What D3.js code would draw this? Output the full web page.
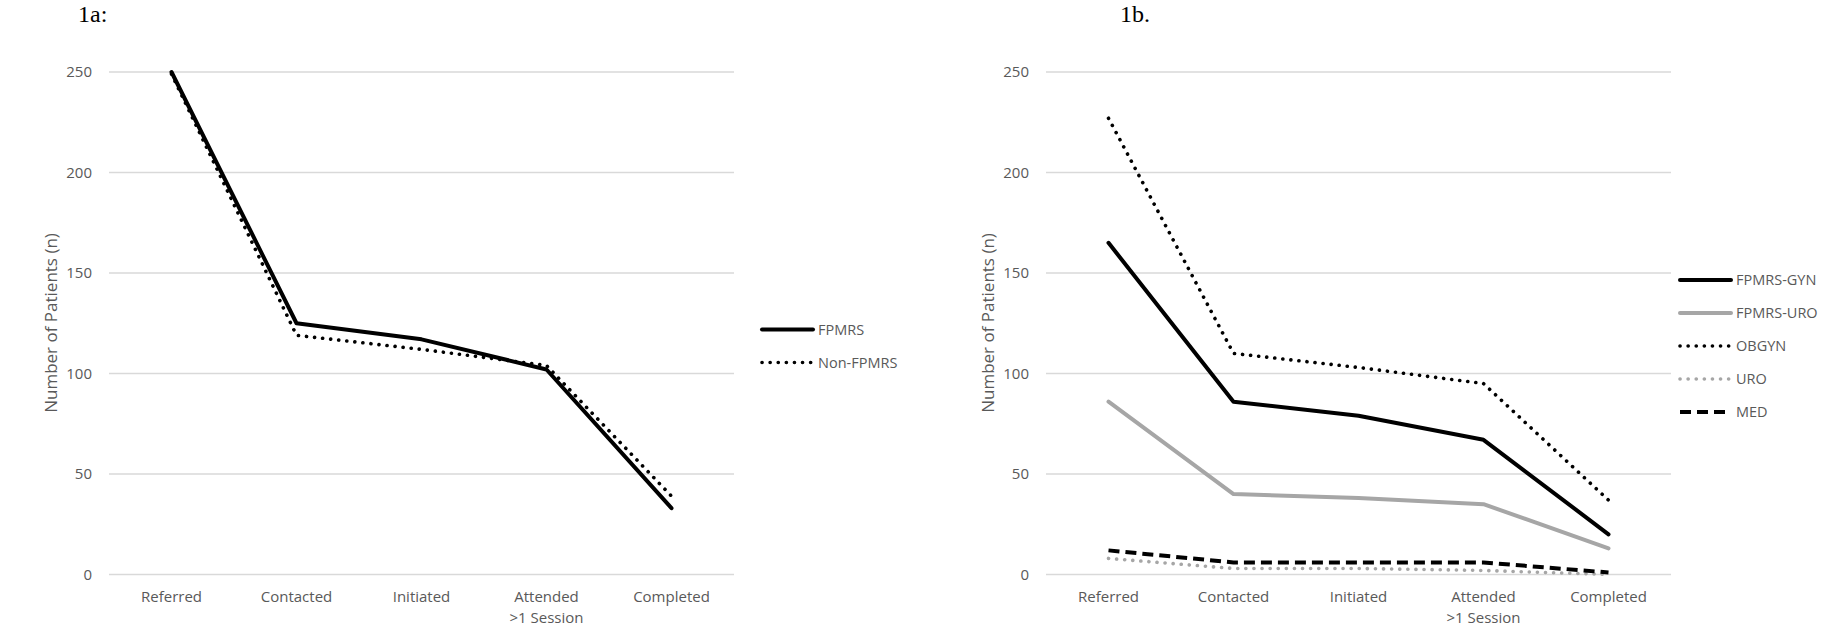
<!DOCTYPE html>
<html>
<head>
<meta charset="utf-8">
<title>Patient funnel</title>
<script src="https://cdnjs.cloudflare.com/ajax/libs/d3/7.8.5/d3.min.js"></script>
<style>
  body { margin: 0; background: #fff; }
  .tick-lbl { font-family: "Open Sans", sans-serif; font-size: 15px; fill: #595959; }
  .title { font-family: "Liberation Serif", "Times New Roman", serif; font-size: 24px; fill: #000; }
</style>
</head>
<body>
<div id="chart"></div>
<script>
// categories and tick labels
var stages = ["Referred", "Contacted", "Initiated", "Attended\n>1 Session", "Completed"];
var yTicks = [0, 50, 100, 150, 200, 250];

// 1a
var fpmrs    = [250, 125, 117, 102, 33];
var nonFpmrs = [249, 119, 112, 104, 39];

// 1b
var fpmrsGyn = [165, 86, 79, 67, 20];
var fpmrsUro = [86, 40, 38, 35, 13];
var obgyn    = [227, 110, 103, 95, 37];
var uro      = [8, 3, 3, 2, 0];
var med      = [12, 6, 6, 6, 1];

var W = 1839, H = 627;
var svg = d3.select("#chart").append("svg").attr("width", W).attr("height", H);

var styles = {
  solid:  { color: "#000", width: 4, dash: null, cap: "round" },
  dotted: { color: "#000", width: 3.6, dash: "0.1 8", cap: "round" },
  solidGray:  { color: "#a6a6a6", width: 4, dash: null, cap: "round" },
  dottedGray: { color: "#a6a6a6", width: 3.6, dash: "0.1 8", cap: "round" },
  dashed: { color: "#000", width: 4, dash: "11 6", cap: "butt" }
};

function drawPanel(opt) {
  var g = svg.append("g");
  var x = d3.scaleBand().domain(stages).range([opt.left, opt.left + 625]).padding(0);
  var y = d3.scaleLinear().domain([0, 250]).range([574.5, 72]);

  // gridlines
  g.selectAll("line.grid").data(yTicks).enter().append("line")
    .attr("x1", opt.left).attr("x2", opt.left + 625)
    .attr("y1", function(d) { return y(d); })
    .attr("y2", function(d) { return y(d); })
    .attr("stroke", "#d9d9d9").attr("stroke-width", 1.5);

  // y tick labels
  g.selectAll("text.yl").data(yTicks).enter().append("text")
    .attr("class", "tick-lbl")
    .attr("x", opt.left - 17)
    .attr("y", function(d) { return y(d); })
    .attr("dy", "0.35em")
    .attr("text-anchor", "end")
    .text(function(d) { return d; });

  // x category labels
  var xl = g.selectAll("text.xl").data(stages).enter().append("text")
    .attr("class", "tick-lbl")
    .attr("text-anchor", "middle")
    .attr("x", function(d) { return x(d) + x.bandwidth() / 2; })
    .attr("y", 602);
  xl.each(function(d) {
    var t = d3.select(this);
    d.split("\n").forEach(function(s, i) {
      t.append("tspan").attr("x", x(d) + x.bandwidth() / 2).attr("dy", i ? 21 : 0).text(s);
    });
  });

  // y axis title
  g.append("text")
    .attr("class", "tick-lbl")
    .style("font-size", "17px")
    .attr("transform", "translate(" + (opt.left - 58) + ",323) rotate(-90)")
    .attr("text-anchor", "middle")
    .attr("dy", "0.35em")
    .text("Number of Patients (n)");

  // panel title
  g.append("text").attr("class", "title")
    .attr("x", opt.titleX).attr("y", 22).text(opt.title);

  var line = d3.line()
    .x(function(d, i) { return x(stages[i]) + x.bandwidth() / 2; })
    .y(function(d) { return y(d); });

  opt.series.forEach(function(s) {
    var st = styles[s.style];
    g.append("path")
      .datum(s.values)
      .attr("d", line)
      .attr("fill", "none")
      .attr("stroke", st.color)
      .attr("stroke-width", st.width)
      .attr("stroke-linejoin", "round")
      .attr("stroke-linecap", st.cap)
      .attr("stroke-dasharray", st.dash);
  });

  // legend
  var lx = opt.legendX;
  var ly0 = 346 - (opt.series.length - 1) * 33 / 2;
  opt.series.forEach(function(s, i) {
    var st = styles[s.style];
    var ly = ly0 + i * 33;
    g.append("line")
      .attr("x1", lx).attr("x2", lx + 51)
      .attr("y1", ly).attr("y2", ly)
      .attr("stroke", st.color)
      .attr("stroke-width", st.width)
      .attr("stroke-linecap", st.cap)
      .attr("stroke-dasharray", st.dash);
    g.append("text").attr("class", "tick-lbl")
      .attr("x", lx + 56).attr("y", ly).attr("dy", "0.35em")
      .style("font-size", "14.5px")
      .text(s.name);
  });
}

drawPanel({
  left: 109, title: "1a:", titleX: 78, legendX: 762,
  series: [
    { name: "FPMRS", values: fpmrs, style: "solid" },
    { name: "Non-FPMRS", values: nonFpmrs, style: "dotted" }
  ]
});

drawPanel({
  left: 1046, title: "1b.", titleX: 1120, legendX: 1680,
  series: [
    { name: "FPMRS-GYN", values: fpmrsGyn, style: "solid" },
    { name: "FPMRS-URO", values: fpmrsUro, style: "solidGray" },
    { name: "OBGYN", values: obgyn, style: "dotted" },
    { name: "URO", values: uro, style: "dottedGray" },
    { name: "MED", values: med, style: "dashed" }
  ]
});
</script>
</body>
</html>
